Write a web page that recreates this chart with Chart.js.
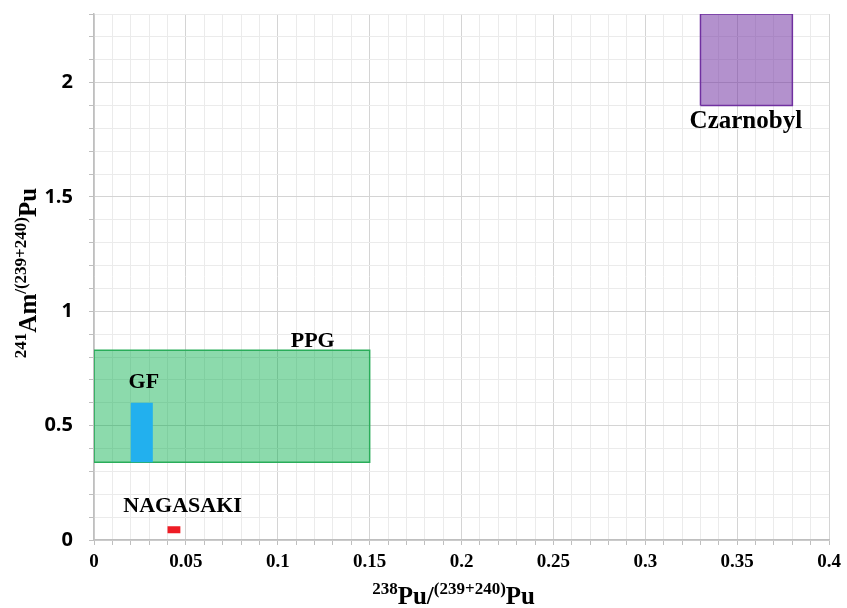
<!DOCTYPE html>
<html>
<head>
<meta charset="utf-8">
<script src="https://cdn.jsdelivr.net/npm/chart.js@4.4.1/dist/chart.umd.min.js"></script>
<style>
  html, body { margin: 0; padding: 0; background: #ffffff; }
  #wrap { width: 847px; height: 608px; }
</style>
</head>
<body>
<div id="wrap"><canvas id="c" width="847" height="608"></canvas></div>
<script>
// Source regions: ranges of 238Pu/(239+240)Pu and 241Am/(239+240)Pu
const regionNames = ['NAGASAKI', 'GF', 'PPG', 'Czarnobyl'];
const puRatioMin  = [0.040, 0.020, 0.000, 0.330];
const puRatioMax  = [0.047, 0.032, 0.150, 0.380];
const amRatioMin  = [0.030, 0.340, 0.340, 1.900];
const amRatioMax  = [0.060, 0.600, 0.830, 2.300];

// Where each region's name is written (data coordinates)
const nameAtX = [0.0482, 0.0271, 0.1190, 0.3547];
const nameAtY = [0.149, 0.690, 0.870, 1.830];

// Axis ranges and tick steps
const xRange = [0, 0.4];
const yRange = [0, 2.3];
const xMinorStep = 0.01, xMajorStep = 0.05;
const yMinorStep = 0.1,  yMajorStep = 0.5;

const fills   = ['#ee1c25', '#22b0ee', 'rgba(0,172,72,0.45)', 'rgba(112,48,160,0.53)'];
const borders = ['#ee1c25', '#22b0ee', '#2aad5a', '#7030a0'];
const borderW = [0, 0, 1.5, 1.5];

function isMajor(v, step) {
  const r = v / step;
  return Math.abs(r - Math.round(r)) < 1e-6;
}
function fmt(v) { return String(Number(v.toFixed(3))); }

// Each region is a closed rectangle outline filled inside
const datasets = regionNames.map((name, i) => ({
  label: name,
  data: [
    { x: puRatioMin[i], y: amRatioMin[i] },
    { x: puRatioMax[i], y: amRatioMin[i] },
    { x: puRatioMax[i], y: amRatioMax[i] },
    { x: puRatioMin[i], y: amRatioMax[i] },
    { x: puRatioMin[i], y: amRatioMin[i] }
  ],
  showLine: true,
  fill: 'shape',
  backgroundColor: fills[i],
  borderColor: borders[i],
  borderWidth: borderW[i],
  pointRadius: 0,
  pointHoverRadius: 0,
  tension: 0
}));

// Region names
const regionLabels = {
  id: 'regionLabels',
  afterDatasetsDraw(chart) {
    const { ctx, scales: { x, y } } = chart;
    ctx.save();
    ctx.fillStyle = '#000';
    ctx.textAlign = 'center';
    ctx.textBaseline = 'middle';
    regionNames.forEach((name, i) => {
      ctx.font = (name === 'Czarnobyl' ? 'bold 25px' : 'bold 22px') + ' "Liberation Serif"';
      ctx.fillText(name, x.getPixelForValue(nameAtX[i]), y.getPixelForValue(nameAtY[i]));
    });
    ctx.restore();
  }
};

// Axis titles with isotope superscripts
const MAIN = 25, SUP = 17;
function runsWidth(ctx, runs) {
  let w = 0;
  runs.forEach(r => {
    ctx.font = 'bold ' + (r.sup ? SUP : MAIN) + 'px "Liberation Serif"';
    w += ctx.measureText(r.t).width;
  });
  return w;
}
function drawRuns(ctx, runs, cx, baseY) {
  let x = cx - runsWidth(ctx, runs) / 2;
  ctx.textAlign = 'left';
  ctx.textBaseline = 'alphabetic';
  runs.forEach(r => {
    ctx.font = 'bold ' + (r.sup ? SUP : MAIN) + 'px "Liberation Serif"';
    ctx.fillText(r.t, x, r.sup ? baseY - MAIN * 0.4 : baseY);
    x += ctx.measureText(r.t).width;
  });
}
const axisTitles = {
  id: 'axisTitles',
  afterDraw(chart) {
    const { ctx, chartArea } = chart;
    ctx.save();
    ctx.fillStyle = '#000';
    drawRuns(ctx, [
      { t: '238', sup: true }, { t: 'Pu/' }, { t: '(239+240)', sup: true }, { t: 'Pu' }
    ], (chartArea.left + chartArea.right) / 2 - 8, 604);
    ctx.translate(36, (chartArea.top + chartArea.bottom) / 2 - 4);
    ctx.rotate(-Math.PI / 2);
    drawRuns(ctx, [
      { t: '241', sup: true }, { t: 'Am' }, { t: '/(239+240)', sup: true }, { t: 'Pu' }
    ], 0, 0);
    ctx.restore();
  }
};

new Chart(document.getElementById('c'), {
  type: 'scatter',
  data: { datasets },
  plugins: [regionLabels, axisTitles],
  options: {
    responsive: false,
    animation: false,
    devicePixelRatio: 1,
    layout: { padding: { top: 14, right: 17, left: 0, bottom: 0 } },
    plugins: { legend: { display: false }, tooltip: { enabled: false } },
    scales: {
      x: {
        type: 'linear',
        min: xRange[0], max: xRange[1],
        afterFit(s) { s.height = 68; },
        border: { color: '#bfbfbf', width: 1.5 },
        grid: {
          color: c => (c.tick && isMajor(c.tick.value, xMajorStep)) ? '#d4d4d4' : '#ebebeb',
          tickColor: '#bfbfbf',
          tickLength: 5,
          drawTicks: true
        },
        ticks: {
          stepSize: xMinorStep,
          autoSkip: false,
          maxRotation: 0,
          padding: 6,
          color: '#000',
          font: { family: '"Liberation Serif"', size: 19, weight: 'bold' },
          callback: v => isMajor(v, xMajorStep) ? fmt(v) : ''
        }
      },
      y: {
        type: 'linear',
        min: yRange[0], max: yRange[1],
        afterFit(s) { s.width = 94; s.paddingTop = 0; s.paddingBottom = 0; },
        border: { color: '#bfbfbf', width: 1.5 },
        grid: {
          color: c => (c.tick && isMajor(c.tick.value, yMajorStep)) ? '#d4d4d4' : '#ebebeb',
          tickColor: '#bfbfbf',
          tickLength: 5,
          drawTicks: true
        },
        ticks: {
          stepSize: yMinorStep,
          autoSkip: false,
          padding: 16,
          color: '#000',
          font: { family: '"Open Sans"', size: 20, weight: 'bold' },
          callback: v => isMajor(v, yMajorStep) ? fmt(v) : ''
        }
      }
    }
  }
});
</script>
</body>
</html>
